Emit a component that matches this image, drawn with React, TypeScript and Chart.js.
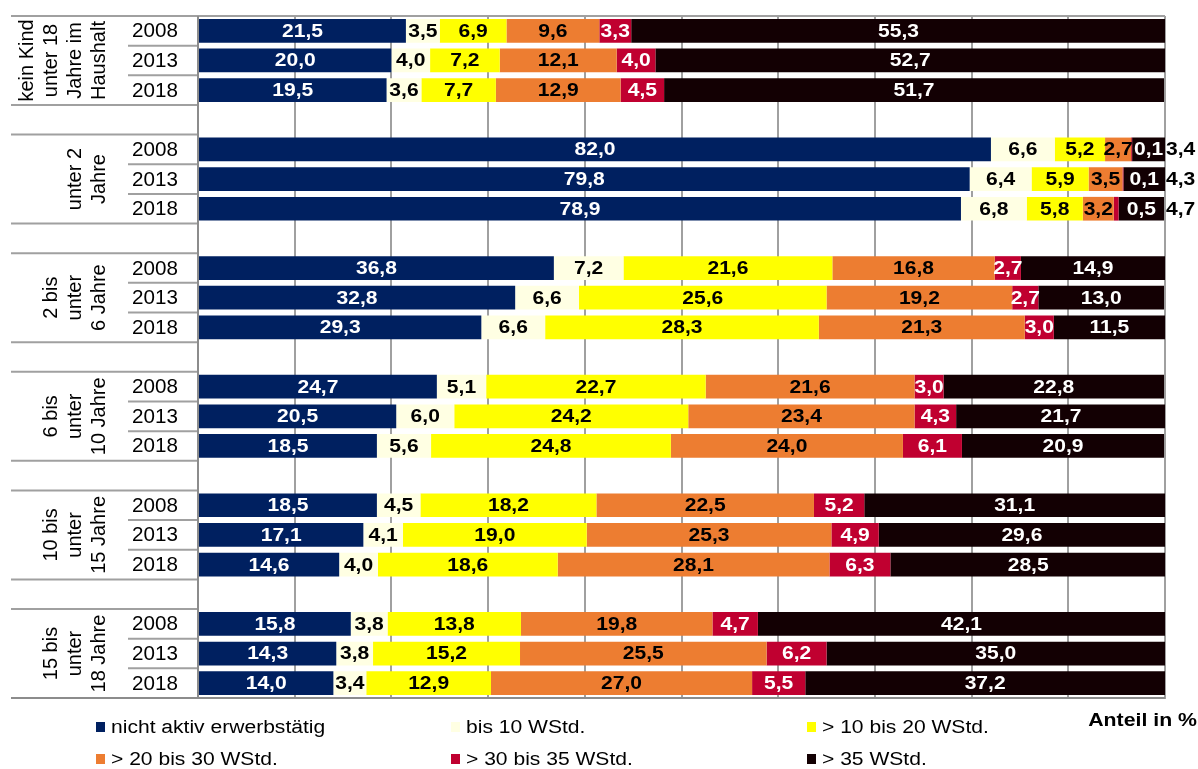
import React, { useEffect, useRef } from "react";
import { Chart, registerables } from "chart.js";

Chart.register(...registerables);

// ---- data ----
const groupLabels: string[][] = [
  ["kein Kind", "unter 18", "Jahre im", "Haushalt"],
  ["unter 2", "Jahre"],
  ["2 bis", "unter", "6 Jahre"],
  ["6 bis", "unter", "10 Jahre"],
  ["10 bis", "unter", "15 Jahre"],
  ["15 bis", "unter", "18 Jahre"],
];
const years = ["2008", "2013", "2018"];
const seriesNames = [
  "nicht aktiv erwerbstätig",
  "bis 10 WStd.",
  "> 10 bis 20 WStd.",
  "> 20 bis 30 WStd.",
  "> 30 bis 35 WStd.",
  "> 35 WStd.",
];
const nichtAktiv = [21.5, 20.0, 19.5, 82.0, 79.8, 78.9, 36.8, 32.8, 29.3, 24.7, 20.5, 18.5, 18.5, 17.1, 14.6, 15.8, 14.3, 14.0];
const bis10 = [3.5, 4.0, 3.6, 6.6, 6.4, 6.8, 7.2, 6.6, 6.6, 5.1, 6.0, 5.6, 4.5, 4.1, 4.0, 3.8, 3.8, 3.4];
const bis20 = [6.9, 7.2, 7.7, 5.2, 5.9, 5.8, 21.6, 25.6, 28.3, 22.7, 24.2, 24.8, 18.2, 19.0, 18.6, 13.8, 15.2, 12.9];
const bis30 = [9.6, 12.1, 12.9, 2.7, 3.5, 3.2, 16.8, 19.2, 21.3, 21.6, 23.4, 24.0, 22.5, 25.3, 28.1, 19.8, 25.5, 27.0];
const bis35 = [3.3, 4.0, 4.5, 0.1, 0.1, 0.5, 2.7, 2.7, 3.0, 3.0, 4.3, 6.1, 5.2, 4.9, 6.3, 4.7, 6.2, 5.5];
const ueber35 = [55.3, 52.7, 51.7, 3.4, 4.3, 4.7, 14.9, 13.0, 11.5, 22.8, 21.7, 20.9, 31.1, 29.6, 28.5, 42.1, 35.0, 37.2];
const xTicks = [0, 10, 20, 30, 40, 50, 60, 70, 80, 90, 100];
const axisTitle = "Anteil in %";

const seriesValues = [nichtAktiv, bis10, bis20, bis30, bis35, ueber35];
const seriesColors = ["#002060", "#FFFFE3", "#FFFF00", "#ED7D31", "#C00030", "#130003"];
const labelColors = ["#FFFFFF", "#000000", "#000000", "#000000", "#FFFFFF", "#FFFFFF"];

// categories with empty gap slots between groups
const categories: string[] = [];
const slotIndex: (number | null)[] = [];
groupLabels.forEach((_, g) => {
  years.forEach((y, k) => {
    categories.push(y);
    slotIndex.push(g * years.length + k);
  });
  if (g < groupLabels.length - 1) {
    categories.push("");
    slotIndex.push(null);
  }
});

const FONT = '"Liberation Sans", Arial, Helvetica, sans-serif';
const fmt = (v: number) => v.toFixed(1).replace(".", ",");

function drawStretched(ctx: CanvasRenderingContext2D, text: string, x: number, y: number, align: "left" | "center" | "right", sx: number) {
  const w = ctx.measureText(text).width * sx;
  let left = x;
  if (align === "center") left = x - w / 2;
  else if (align === "right") left = x - w;
  ctx.save();
  ctx.textAlign = "left";
  ctx.translate(left, y);
  ctx.scale(sx, 1);
  ctx.fillText(text, 0, 0);
  ctx.restore();
}

const valueLabelPlugin = {
  id: "valueLabels",
  afterDatasetsDraw(chart: any) {
    const ctx = chart.ctx;
    const area = chart.chartArea;
    ctx.save();
    ctx.font = `bold 18px ${FONT}`;
    ctx.textBaseline = "middle";
    const blackMeta = chart.getDatasetMeta(5);
    chart.data.datasets.forEach((ds: any, i: number) => {
      const meta = chart.getDatasetMeta(i);
      ds.data.forEach((v: number | null, j: number) => {
        if (v === null || v === undefined) return;
        const el = meta.data[j];
        const red = chart.data.datasets[4].data[j] as number;
        let x = (el.x + el.base) / 2;
        let color = labelColors[i];
        let align: "left" | "center" = "center";
        if (red < 1) {
          if (i === 4) {
            const b = blackMeta.data[j];
            x = (b.x + b.base) / 2;
            color = "#FFFFFF";
          } else if (i === 5) {
            x = area.right + 1;
            align = "left";
            color = "#000000";
          }
        }
        ctx.fillStyle = color;
        drawStretched(ctx, fmt(v), x, el.y + 1, align, 1.17);
      });
    });
    ctx.restore();
  },
};

const framePlugin = {
  id: "frame",
  afterDraw(chart: any) {
    const ctx = chart.ctx;
    const area = chart.chartArea;
    const y = chart.scales.y;
    const n = categories.length;
    const h = (y.bottom - y.top) / n;
    ctx.save();
    ctx.strokeStyle = "#A0A0A0";
    ctx.lineWidth = 2;
    const hline = (x1: number, x2: number, yy: number) => {
      ctx.beginPath();
      ctx.moveTo(x1, yy);
      ctx.lineTo(x2, yy);
      ctx.stroke();
    };
    hline(11, area.right, area.top);
    groupLabels.forEach((lines, g) => {
      const s = g * (years.length + 1);
      const top = y.getPixelForValue(s) - h / 2;
      const bottom = y.getPixelForValue(s + years.length - 1) + h / 2;
      hline(11, area.left, top);
      hline(11, area.left, bottom);
      for (let k = 1; k < years.length; k++) {
        hline(128, area.left, y.getPixelForValue(s + k) - h / 2);
      }
      const cy = (top + bottom) / 2;
      ctx.fillStyle = "#000000";
      ctx.font = `20px ${FONT}`;
      ctx.textAlign = "center";
      ctx.textBaseline = "middle";
      lines.forEach((line, k) => {
        const cx = 98 - (lines.length - 1 - k) * 24;
        ctx.save();
        ctx.translate(cx, cy);
        ctx.rotate(-Math.PI / 2);
        ctx.fillText(line, 0, 1);
        ctx.restore();
      });
    });
    // left axis line
    ctx.strokeStyle = "#8C8C8C";
    ctx.beginPath();
    ctx.moveTo(area.left, area.top);
    ctx.lineTo(area.left, area.bottom);
    ctx.stroke();
    hline(11, area.right, area.bottom);
    // year labels
    ctx.fillStyle = "#000000";
    ctx.font = `20px ${FONT}`;
    ctx.textAlign = "center";
    ctx.textBaseline = "middle";
    categories.forEach((c, j) => {
      if (!c) return;
      drawStretched(ctx, c, 155, y.getPixelForValue(j) + 1, "center", 1.03);
    });
    // legend
    const cols = [96, 451, 807];
    const rows = [727, 759];
    ctx.font = `18px ${FONT}`;
    ctx.textBaseline = "middle";
    seriesNames.forEach((name, i) => {
      const cx = cols[i % 3];
      const cy = rows[Math.floor(i / 3)];
      ctx.fillStyle = seriesColors[i];
      ctx.fillRect(cx, cy - 5, 9, 10);
      ctx.fillStyle = "#000000";
      drawStretched(ctx, name, cx + 15, cy + 1, "left", 1.17);
    });
    ctx.font = `bold 19px ${FONT}`;
    drawStretched(ctx, axisTitle, 1197, 721, "right", 1.12);
    ctx.restore();
  },
};

export default function App() {
  const ref = useRef<HTMLCanvasElement | null>(null);
  useEffect(() => {
    if (!ref.current) return;
    const chart = new Chart(ref.current, {
      type: "bar",
      data: {
        labels: categories,
        datasets: seriesValues.map((vals, i) => ({
          label: seriesNames[i],
          data: slotIndex.map((s) => (s === null ? null : vals[s])),
          backgroundColor: seriesColors[i],
          borderWidth: 0,
          barPercentage: 0.8,
          categoryPercentage: 1,
        })),
      },
      options: {
        indexAxis: "y",
        responsive: false,
        animation: false,
        layout: { padding: { left: 198, right: 33, top: 16, bottom: 71 } },
        plugins: { legend: { display: false }, tooltip: { enabled: false } },
        scales: {
          x: {
            stacked: true,
            min: 0,
            max: 100,
            afterBuildTicks: (axis: any) => {
              axis.ticks = xTicks.map((v) => ({ value: v }));
            },
            ticks: { display: false },
            grid: { color: "#A0A0A0", lineWidth: 2, drawTicks: false },
            border: { display: true, color: "#A0A0A0", width: 2 },
          },
          y: {
            stacked: true,
            display: false,
          },
        },
      } as any,
      plugins: [valueLabelPlugin, framePlugin],
    });
    return () => chart.destroy();
  }, []);
  return (
    <div style={{ position: "fixed", left: 0, top: 0, width: 1198, height: 769, background: "#fff" }}>
      <canvas ref={ref} width={1198} height={769} style={{ display: "block" }} />
    </div>
  );
}
